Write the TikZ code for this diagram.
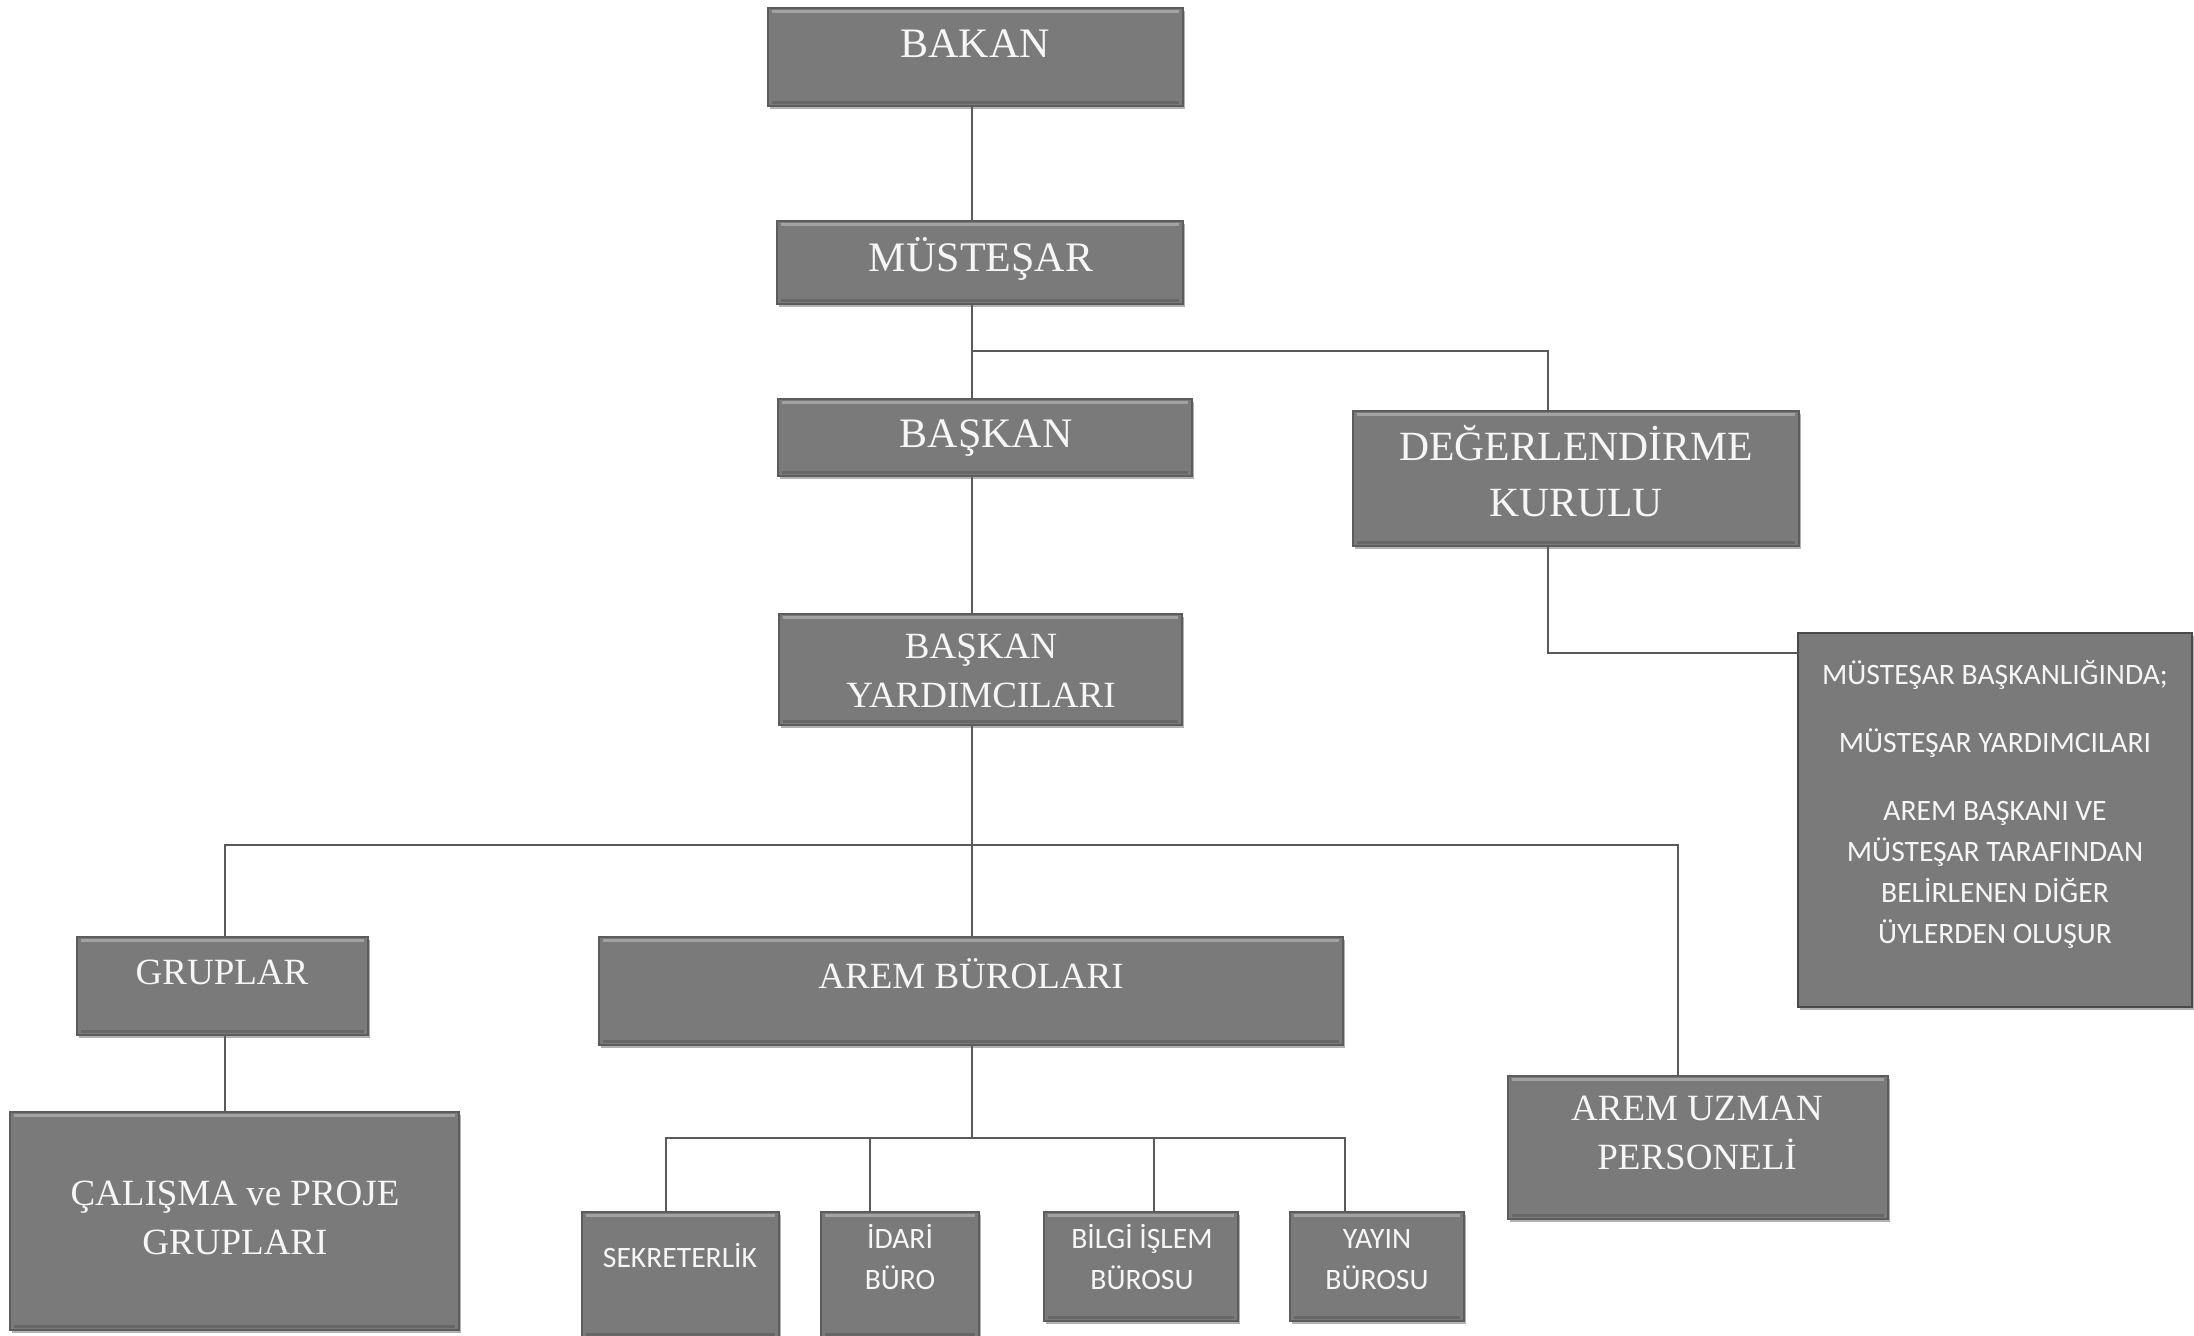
\documentclass[tikz,border=0pt]{standalone}
\usepackage{fontspec}
\setmainfont{Liberation Serif}
\newfontfamily\calib{Carlito}
\usetikzlibrary{fit,shadows}
\definecolor{boxfill}{RGB}{122,122,122}
\definecolor{boxedge}{RGB}{92,92,92}
\definecolor{linecol}{RGB}{90,90,90}
\definecolor{txt}{RGB}{246,246,246}
\begin{document}
\begin{tikzpicture}[x=0.5pt,y=-0.5pt,
  bevel/.style={path picture={
    \draw[white, opacity=0.3, line width=1.4pt]
      ([xshift=2pt,yshift=-1.6pt]path picture bounding box.north west) --
      ([xshift=-2pt,yshift=-1.6pt]path picture bounding box.north east);
    \draw[black, opacity=0.15, line width=1.4pt]
      ([xshift=2pt,yshift=1.6pt]path picture bounding box.south west) --
      ([xshift=-2pt,yshift=1.6pt]path picture bounding box.south east);}},
  box/.style={fill=boxfill, draw=boxedge, line width=0.8pt, inner sep=0pt, bevel,
    drop shadow={shadow xshift=1pt, shadow yshift=-1.5pt, opacity=0.3, fill=black}},
  notebox/.style={fill=boxfill, draw=boxedge!80!black, line width=1.2pt, inner sep=0pt,
    drop shadow={shadow xshift=1pt, shadow yshift=-1.5pt, opacity=0.3, fill=black}},
  bigtxt/.style={text=txt, inner sep=0pt, align=center, font=\fontsize{21}{25}\selectfont},
  midtxt/.style={text=txt, inner sep=0pt, align=center, font=\fontsize{18.5}{24.5}\selectfont},
  degtxt/.style={text=txt, inner sep=0pt, align=center, font=\fontsize{20.8}{28}\selectfont},
  smalltxt/.style={text=txt, inner sep=0pt, align=center, font=\calib\fontsize{14.8}{20.5}\selectfont},
  conn/.style={draw=linecol, line width=1.1pt}]
\useasboundingbox (0,0) rectangle (2194,1335);
\fill[white] (0,0) rectangle (2194,1335);

% boxes
\node[box, fit={(768,8)(1183,106)}] (bakan) {};
\node[box, fit={(777,221)(1183,304)}] (mustesar) {};
\node[box, fit={(778,399)(1192,476)}] (baskan) {};
\node[box, fit={(1353,411)(1799,546)}] (deger) {};
\node[box, fit={(779,614)(1182,725)}] (by) {};
\node[notebox, fit={(1798,633)(2192,1007)}] (note) {};
\node[box, fit={(77,937)(368,1035)}] (gruplar) {};
\node[box, fit={(599,937)(1343,1045)}] (arembur) {};
\node[box, fit={(1508,1076)(1888,1219)}] (uzman) {};
\node[box, fit={(10,1112)(459,1330)}] (calisma) {};
\node[box, fit={(582,1212)(779,1338)}] (sekr) {};
\node[box, fit={(821,1212)(979,1338)}] (idari) {};
\node[box, fit={(1044,1212)(1238,1321)}] (bilgi) {};
\node[box, fit={(1290,1212)(1464,1321)}] (yayin) {};

% texts
\node[bigtxt] (bakanT) at (975,44) {BAKAN};
\node[bigtxt] (mustesarT) at (981,259) {MÜSTEŞAR};
\node[bigtxt] (baskanT) at (986,438) {BAŞKAN};
\node[degtxt] (degerT) at (1576,471) {DEĞERLENDİRME\\KURULU};
\node[midtxt] (byT) at (981,671) {BAŞKAN\\YARDIMCILARI};
\node[midtxt] (gruplarT) at (222,972) {GRUPLAR};
\node[midtxt] (aremburT) at (971,974) {AREM BÜROLARI};
\node[midtxt] (uzmanT) at (1697,1133) {AREM UZMAN\\PERSONELİ};
\node[midtxt] (calismaT) at (235,1218) {ÇALIŞMA ve PROJE\\GRUPLARI};
\node[smalltxt] (sekrT) at (680,1255) {SEKRETERLİK};
\node[smalltxt] (idariT) at (900,1257) {İDARİ\\BÜRO};
\node[smalltxt] (bilgiT) at (1142,1257) {BİLGİ İŞLEM\\BÜROSU};
\node[smalltxt] (yayinT) at (1377,1260) {YAYIN\\BÜROSU};
\node[smalltxt] (noteT) at (1995,804) {MÜSTEŞAR BAŞKANLIĞINDA;\\[13.5pt]MÜSTEŞAR YARDIMCILARI\\[13.5pt]AREM BAŞKANI VE\\MÜSTEŞAR TARAFINDAN\\BELİRLENEN DİĞER\\ÜYLERDEN OLUŞUR};

% helper coordinates
\coordinate (tx) at (972,0);
\coordinate (dx) at (1548,0);
\coordinate (gx) at (225,0);
\coordinate (ux) at (1678,0);
\coordinate (s1) at (666,0);
\coordinate (s2) at (870,0);
\coordinate (s3) at (1154,0);
\coordinate (s4) at (1345,0);
\coordinate (h1) at (0,351);
\coordinate (h2) at (0,845);
\coordinate (h3) at (0,1138);
\coordinate (h4) at (0,653);

% connectors
\draw[conn] (bakan.south -| tx) -- (mustesar.north -| tx);
\draw[conn] (mustesar.south -| tx) -- (baskan.north -| tx);
\draw[conn] (h1 -| tx) -| (deger.north -| dx);
\draw[conn] (baskan.south -| tx) -- (by.north -| tx);
\draw[conn] (by.south -| tx) -- (h2 -| tx);
\draw[conn] (gruplar.north -| gx) |- (h2 -| ux) -- (uzman.north -| ux);
\draw[conn] (h2 -| tx) -- (arembur.north -| tx);
\draw[conn] (gruplar.south -| gx) -- (calisma.north -| gx);
\draw[conn] (arembur.south -| tx) -- (h3 -| tx);
\draw[conn] (sekr.north -| s1) |- (h3 -| s4) -- (yayin.north -| s4);
\draw[conn] (h3 -| s2) -- (idari.north -| s2);
\draw[conn] (h3 -| s3) -- (bilgi.north -| s3);
\draw[conn] (deger.south -| dx) |- (note.west |- h4);
\end{tikzpicture}
\end{document}
